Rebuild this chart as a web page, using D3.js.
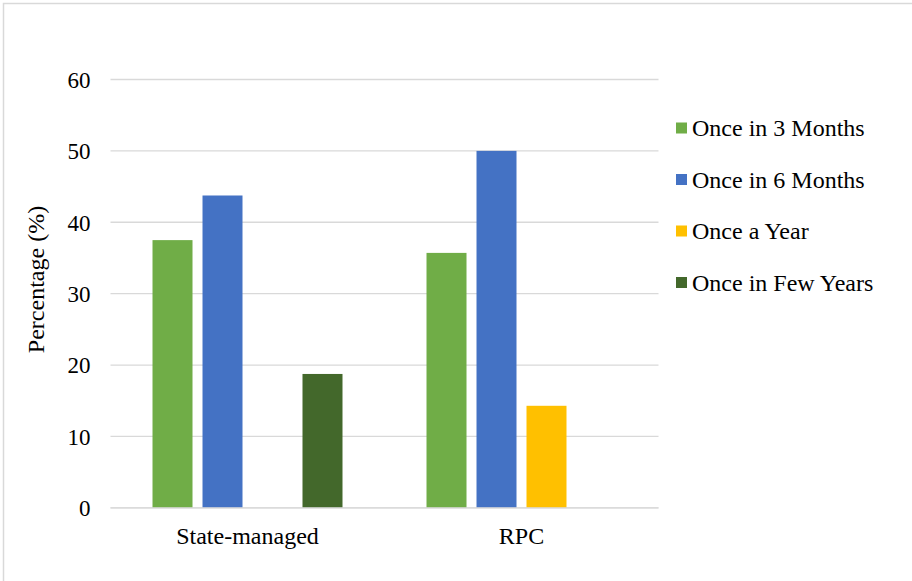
<!DOCTYPE html>
<html>
<head>
<meta charset="utf-8">
<script src="https://cdn.jsdelivr.net/npm/d3@7"></script>
<style>
  html, body { margin: 0; padding: 0; background: #fff; }
  svg { display: block; font-family: "Liberation Serif", "Times New Roman", serif; }
  svg text { font-family: "Liberation Serif", "Times New Roman", serif; }
</style>
</head>
<body>
<svg id="chart" width="912" height="581"></svg>
<script>
// Survey data: frequency of checks by management type
const categories = ["State-managed", "RPC"];
const seriesNames = ["Once in 3 Months", "Once in 6 Months", "Once a Year", "Once in Few Years"];
const seriesColors = ["#70AD47", "#4472C4", "#FFC000", "#43682B"];
const stateManaged = [37.5, 43.75, 0, 18.75];
const rpc = [35.71, 50, 14.29, 0];
const yTicks = [0, 10, 20, 30, 40, 50, 60];
const yTitle = "Percentage (%)";

const values = [stateManaged, rpc];

const svg = d3.select("#chart");
const W = 912, H = 581;
const FONT = 24;

// outer frame
svg.append("rect")
  .attr("x", 3.5).attr("y", 3.5)
  .attr("width", W + 10).attr("height", H + 10)
  .attr("fill", "none").attr("stroke", "#d9d9d9").attr("stroke-width", 1.5);

const plot = { left: 110.5, right: 658.5, top: 79.5, bottom: 507.8 };

const y = d3.scaleLinear().domain([0, 60]).range([plot.bottom, plot.top]);
const x0 = d3.scaleBand().domain(categories)
  .range([plot.left, plot.right])
  .paddingInner(0.3066).paddingOuter(0.1533);
const x1 = d3.scaleBand().domain(seriesNames)
  .range([0, x0.bandwidth()])
  .paddingInner(0.2).paddingOuter(0);

// gridlines
const grid = svg.append("g");
grid.selectAll("line").data(yTicks).join("line")
  .attr("x1", plot.left).attr("x2", plot.right)
  .attr("y1", d => y(d)).attr("y2", d => y(d))
  .attr("stroke", "#d9d9d9").attr("stroke-width", 1.3);

// y axis labels
const yAxis = svg.append("g")
  .attr("transform", `translate(${plot.left - 20},0)`)
  .call(d3.axisLeft(y).tickValues(yTicks).tickSize(0).tickPadding(0).tickFormat(d3.format("d")));
yAxis.select(".domain").remove();
yAxis.attr("font-family", null).attr("font-size", null);
yAxis.selectAll("text")
  .attr("font-size", 23).attr("fill", "#000").attr("dy", "0.34em");

// axis title
svg.append("text")
  .attr("transform", `translate(44,279.5) rotate(-90)`)
  .attr("text-anchor", "middle")
  .attr("font-size", FONT).attr("fill", "#000")
  .text(yTitle);

// bars
const groups = svg.append("g").selectAll("g").data(categories).join("g")
  .attr("transform", d => `translate(${x0(d)},0)`);
groups.selectAll("rect")
  .data((c, i) => seriesNames.map((s, j) => ({ s, v: values[i][j], color: seriesColors[j] })))
  .join("rect")
  .filter(d => d.v > 0)
  .attr("x", d => x1(d.s))
  .attr("width", x1.bandwidth())
  .attr("y", d => y(d.v))
  .attr("height", d => y(0) - y(d.v))
  .attr("fill", d => d.color);

// baseline on top of bars
svg.append("line")
  .attr("x1", plot.left).attr("x2", plot.right)
  .attr("y1", y(0)).attr("y2", y(0))
  .attr("stroke", "#d9d9d9").attr("stroke-width", 1.3);

// category labels
const xAxis = svg.append("g")
  .attr("transform", `translate(0,${plot.bottom})`)
  .call(d3.axisBottom(x0).tickSize(0).tickPadding(0));
xAxis.select(".domain").remove();
xAxis.attr("font-family", null).attr("font-size", null);
xAxis.selectAll("text")
  .attr("font-size", FONT).attr("fill", "#000").attr("y", 36).attr("dy", null);

// legend
const legend = svg.append("g").selectAll("g").data(seriesNames).join("g")
  .attr("transform", (d, i) => `translate(676,${128 + i * 51.5})`);
legend.append("rect")
  .attr("x", 0).attr("y", -5.5).attr("width", 11).attr("height", 11)
  .attr("fill", (d, i) => seriesColors[i]);
legend.append("text")
  .attr("x", 16).attr("y", 0).attr("dy", "0.35em")
  .attr("font-size", FONT).attr("fill", "#000")
  .text(d => d);
</script>
</body>
</html>
